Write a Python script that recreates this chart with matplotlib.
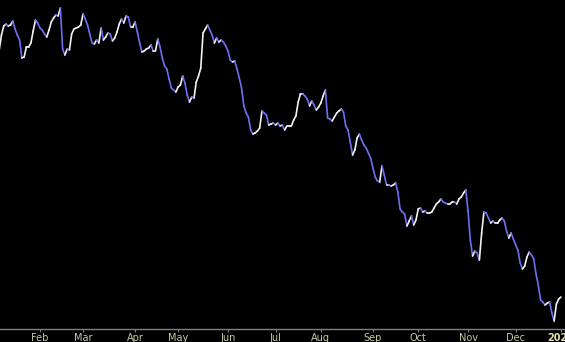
import numpy as np
import pandas as pd
import matplotlib
matplotlib.use('Agg')
import matplotlib.pyplot as plt
from matplotlib.collections import LineCollection

# trading days shown on the chart (NYSE calendar, early Jan 2023 -> Jan 2 2024)
holidays = ['2023-01-16', '2023-02-20', '2023-04-07', '2023-05-29', '2023-06-19',
            '2023-07-04', '2023-09-04', '2023-11-23', '2023-12-25', '2024-01-01']

# daily closes
closes = [
    58.0, 59.5, 60.4, 60.6, 60.4, 60.5, 60.9, 60.1, 59.5, 59.0,
    57.2, 57.3, 58.3, 58.3, 58.7, 59.9, 61.0, 60.7, 60.2, 60.0,
    59.6, 59.3, 60.0, 60.8, 61.2, 61.5, 61.4, 62.2, 58.1, 57.5,
    58.1, 58.0, 59.6, 60.1, 60.2, 60.3, 60.5, 61.6, 61.1, 60.5,
    59.6, 58.7, 58.6, 59.0, 58.7, 60.2, 59.0, 59.3, 59.7, 59.6,
    58.9, 59.2, 59.8, 60.6, 61.1, 60.7, 61.4, 61.3, 60.3, 60.3,
    60.8, 59.8, 58.7, 57.8, 57.9, 58.1, 58.2, 58.5, 57.9, 57.9,
    59.1, 58.3, 57.2, 56.4, 56.1, 55.1, 54.2, 54.0, 53.8, 54.3,
    54.5, 55.4, 54.7, 53.5, 52.8, 53.3, 53.2, 54.8, 55.4, 56.2,
    59.7, 60.1, 60.5, 60.0, 59.5, 58.7, 59.2, 58.8, 59.0, 58.8,
    58.4, 57.9, 57.0, 56.8, 56.9, 56.1, 55.2, 54.2, 52.4, 51.7,
    51.3, 50.0, 49.6, 49.7, 49.9, 50.2, 51.9, 51.7, 51.5, 50.5,
    50.6, 50.7, 50.5, 50.7, 50.4, 50.5, 50.0, 50.4, 50.4, 50.4,
    51.0, 51.4, 52.8, 53.6, 53.6, 53.4, 53.1, 52.4, 52.9, 52.5,
    52.0, 52.3, 52.7, 53.4, 54.0, 51.2, 51.1, 50.9, 51.3, 51.7,
    51.9, 52.1, 51.8, 50.4, 50.0, 48.8, 47.5, 48.0, 49.2, 49.6,
    49.0, 48.5, 48.2, 47.7, 47.2, 46.2, 45.3, 44.9, 44.8, 46.4,
    45.5, 44.5, 44.5, 44.4, 44.5, 44.7, 43.8, 42.1, 41.8, 41.6,
    40.4, 40.9, 41.4, 40.5, 41.0, 42.1, 42.2, 41.8, 41.9, 41.7,
    41.7, 41.8, 42.2, 42.6, 42.8, 43.1, 42.8, 42.7, 42.6, 42.6,
    42.8, 42.8, 42.6, 43.1, 43.3, 43.7, 44.0, 41.9, 39.0, 37.4,
    37.9, 37.7, 37.0, 39.7, 41.8, 41.7, 41.2, 40.7, 40.9, 40.7,
    40.7, 41.0, 41.2, 40.9, 39.9, 39.2, 39.7, 39.1, 38.5, 38.0,
    36.7, 36.1, 36.4, 37.3, 37.8, 37.5, 37.1, 35.6, 34.5, 33.0,
    32.8, 32.5, 32.7, 32.8, 31.7, 30.9, 32.6, 33.1, 33.3,
]

UP_COLOR = '#f2f2f2'
DOWN_COLOR = '#6e6ef0'
LABEL_COLOR = '#c8c8a0'

dates = pd.bdate_range('2023-01-05', '2024-01-02', freq='C', holidays=holidays)
n = min(len(dates), len(closes))
dates = dates[:n]
y = np.array(closes[:n])
x = np.arange(n)

fig = plt.figure(figsize=(5.65, 3.42), dpi=100, facecolor='black')
ax = fig.add_axes([0, 13 / 342, 1, 329 / 342], facecolor='black')

# colour each step by direction: white up, blue down
pts = np.column_stack([x, y]).reshape(-1, 1, 2)
segs = np.concatenate([pts[:-1], pts[1:]], axis=1)
colors = [UP_COLOR if y[i + 1] >= y[i] else DOWN_COLOR for i in range(n - 1)]
lc = LineCollection(segs, colors=colors, linewidths=1.2, capstyle='round', joinstyle='round')
ax.add_collection(lc)

ax.set_xlim(0.35, 249.8)
ax.set_ylim(30.1, 63.0)

# ticks on the first trading day of each month
s = pd.Series(x, index=dates)
firsts = s.groupby([dates.year, dates.month]).first()
tick_pos, tick_lab = [], []
for (yr, mo), pos in firsts.items():
    if pos == 0:
        continue
    tick_pos.append(pos)
    tick_lab.append(str(yr) if mo == 1 else pd.Timestamp(yr, mo, 1).strftime('%b'))
ax.set_xticks(tick_pos)
ax.set_xticklabels(tick_lab)
for lab in ax.get_xticklabels():
    lab.set_color(LABEL_COLOR)
    if lab.get_text().isdigit():
        lab.set_fontweight('bold')
        lab.set_color('#e0e0a8')

ax.tick_params(axis='x', length=2.5, width=0.8, color='#808080', pad=0.5, labelsize=7)
ax.set_yticks([])
for side in ['top', 'left', 'right']:
    ax.spines[side].set_visible(False)
ax.spines['bottom'].set_color('#808080')
ax.spines['bottom'].set_linewidth(1.0)

fig.savefig('out.png', dpi=100, facecolor='black')
